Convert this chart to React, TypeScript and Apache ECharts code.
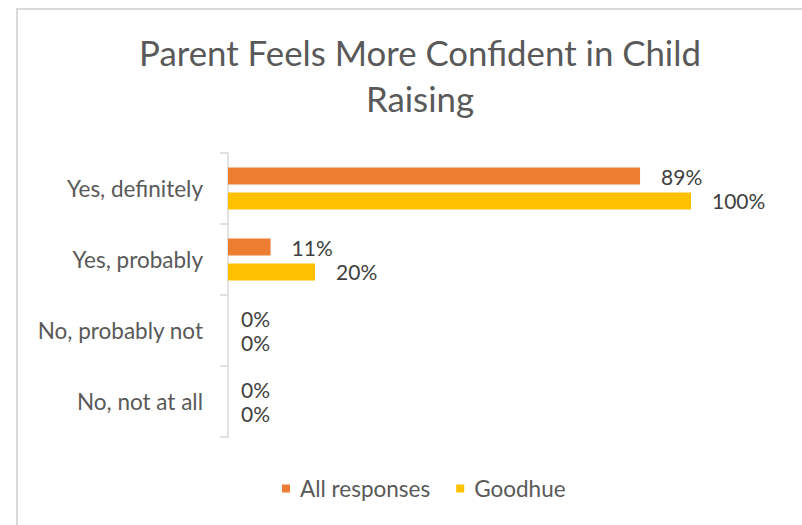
import React, { useEffect, useRef } from "react";
import * as echarts from "echarts";

const titleText = "Parent Feels More Confident in Child\nRaising";
const categories = ["Yes, definitely", "Yes, probably", "No, probably not", "No, not at all"];
const seriesNames = ["All responses", "Goodhue"];
const allResponses = [89, 9.2, 0, 0];
const goodhue = [100, 18.8, 0, 0];
const allResponsesLabels = ["89%", "11%", "0%", "0%"];
const goodhueLabels = ["100%", "20%", "0%", "0%"];
const colors = ["#ED7D31", "#FFC000"];

const FONT = "Lato, 'Open Sans', sans-serif";

function buildData(values: number[], labels: string[]) {
  return values.map((v, i) => ({
    value: v,
    label: { distance: v === 0 ? 13 : 21, formatter: labels[i] },
  }));
}

export default function App() {
  const ref = useRef<HTMLDivElement>(null);
  useEffect(() => {
    if (!ref.current) return;
    const chart = echarts.init(ref.current, null, { renderer: "svg" });
    chart.setOption({
      animation: false,
      backgroundColor: "#ffffff",
      textStyle: { fontFamily: FONT },
      graphic: [
        {
          type: "rect",
          shape: { x: 17, y: 9, width: 900, height: 700 },
          style: { fill: "none", stroke: "#d9d9d9", lineWidth: 2 },
          silent: true,
        },
        {
          type: "text",
          x: 420,
          y: 29,
          style: {
            text: titleText,
            fontFamily: FONT,
            fontSize: 34.8,
            fill: "#595959",
            textAlign: "center",
            lineHeight: 46,
          },
        },
      ],
      legend: {
        data: seriesNames,
        left: 282,
        top: 477,
        padding: 0,
        icon: "rect",
        itemWidth: 8,
        itemHeight: 8,
        itemGap: 26,
        textStyle: { fontSize: 22.5, color: "#595959", fontFamily: FONT, padding: [0, 0, 0, 5] },
      },
      grid: { left: 228, right: 111, top: 153, bottom: 88, containLabel: false },
      xAxis: { type: "value", min: 0, max: 100, show: false },
      yAxis: {
        type: "category",
        data: categories,
        inverse: true,
        offset: 5,
        axisLine: { show: true, lineStyle: { color: "#d9d9d9", width: 1.5 } },
        axisTick: { show: true, length: 8, lineStyle: { color: "#d9d9d9", width: 1.5 } },
        axisLabel: { margin: 20, fontSize: 22.5, color: "#595959", fontFamily: FONT },
        splitLine: { show: false },
      },
      series: [
        {
          name: seriesNames[0],
          type: "bar",
          barWidth: 17,
          barGap: "47%",
          itemStyle: { color: colors[0] },
          label: { show: true, position: "right", fontSize: 21, color: "#404040", fontFamily: FONT },
          data: buildData(allResponses, allResponsesLabels),
        },
        {
          name: seriesNames[1],
          type: "bar",
          barWidth: 17,
          barGap: "47%",
          itemStyle: { color: colors[1] },
          label: { show: true, position: "right", fontSize: 21, color: "#404040", fontFamily: FONT },
          data: buildData(goodhue, goodhueLabels),
        },
      ],
    });
    return () => chart.dispose();
  }, []);
  return (
    <div
      ref={ref}
      style={{ position: "fixed", left: 0, top: 0, width: 802, height: 525, background: "#fff" }}
    />
  );
}
